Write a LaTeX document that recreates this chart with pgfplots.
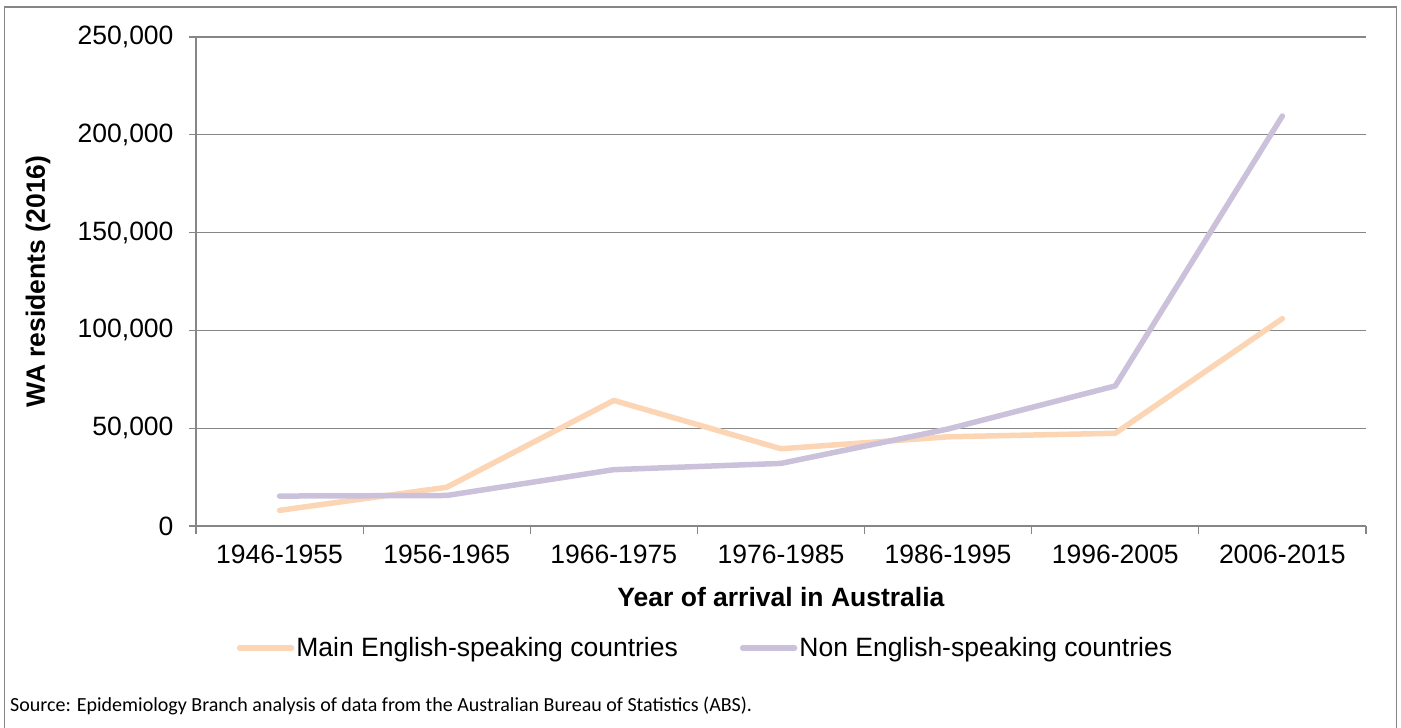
\documentclass[border=0pt]{standalone}
\usepackage{pgfplots}
\pgfplotsset{compat=1.18}
\usepackage{fontspec}
\setmainfont{Liberation Sans}
\newfontfamily\srcfont{Carlito}
\definecolor{peach}{RGB}{252,213,181}
\definecolor{lilac}{RGB}{204,193,218}
\definecolor{gridgray}{RGB}{134,134,134}
\begin{document}
\begin{tikzpicture}[x=1bp,y=1bp]
\useasboundingbox (0,0) rectangle (1401,727);
\draw[gridgray, line width=1.2bp] (4.5,-10) rectangle (1396.5,720);
\begin{axis}[
  at={(196bp,201bp)}, anchor=south west, scale only axis,
  width=1170bp, height=489bp,
  xmin=0, xmax=7, ymin=0, ymax=250000,
  axis lines=left,
  axis line style={-, gridgray, line width=1.2bp},
  ytick={0,50000,100000,150000,200000,250000},
  scaled y ticks=false,
  /pgf/number format/.cd, fixed, 1000 sep={,}, assume math mode=true,
  /pgfplots/.cd,
  xtick={0.5,1.5,2.5,3.5,4.5,5.5,6.5},
  xticklabels={1946-1955,1956-1965,1966-1975,1976-1985,1986-1995,1996-2005,2006-2015},
  minor xtick={0,1,2,3,4,5,6,7},
  tick align=outside,
  major tick length=7bp,
  minor tick length=8bp,
  x tick style={draw=none},
  y tick style={gridgray, line width=1.2bp},
  minor x tick style={draw=gridgray, line width=1.2bp},
  ymajorgrids,
  grid style={gridgray, line width=1.2bp},
  tick label style={font=\fontsize{26.5bp}{31bp}\selectfont, text=black},
  yticklabel style={xshift=-12bp},
  xticklabel style={yshift=-8bp},
  ylabel={\bfseries WA residents (2016)},
  xlabel={\bfseries Year of arrival in Australia},
  label style={font=\fontsize{26.5bp}{31bp}\selectfont},
  ylabel style={at={(axis description cs:-0.135,0.5)}, anchor=center},
  xlabel style={at={(axis description cs:0.5,-0.1452)}, anchor=center},
  legend columns=2,
  legend style={draw=none, fill=none, at={(0.4355,-0.2495)}, anchor=center,
    font=\fontsize{26.5bp}{31bp}\selectfont,
    /tikz/every even column/.append style={column sep=60bp}},
  legend image code/.code={\draw[#1, line cap=round] (0bp,0bp) -- (52bp,0bp);},
  clip=false,
]
\addplot[peach, line width=5.5bp, line cap=round, line join=round] coordinates {
 (0.5,8000) (1.5,19800) (2.5,64200) (3.5,39500) (4.5,45600) (5.5,47400) (6.5,106000)};
\addlegendentry{Main English-speaking countries}
\addplot[lilac, line width=5.5bp, line cap=round, line join=round] coordinates {
 (0.5,15300) (1.5,15600) (2.5,28800) (3.5,32000) (4.5,49600) (5.5,71600) (6.5,209600)};
\addlegendentry{Non English-speaking countries}
\end{axis}
\node[anchor=west, font=\srcfont\fontsize{20bp}{24bp}\selectfont, inner sep=0] at (10,21) {Source: Epidemiology Branch analysis of data from the Australian Bureau of Statistics (ABS).};
\end{tikzpicture}
\end{document}
